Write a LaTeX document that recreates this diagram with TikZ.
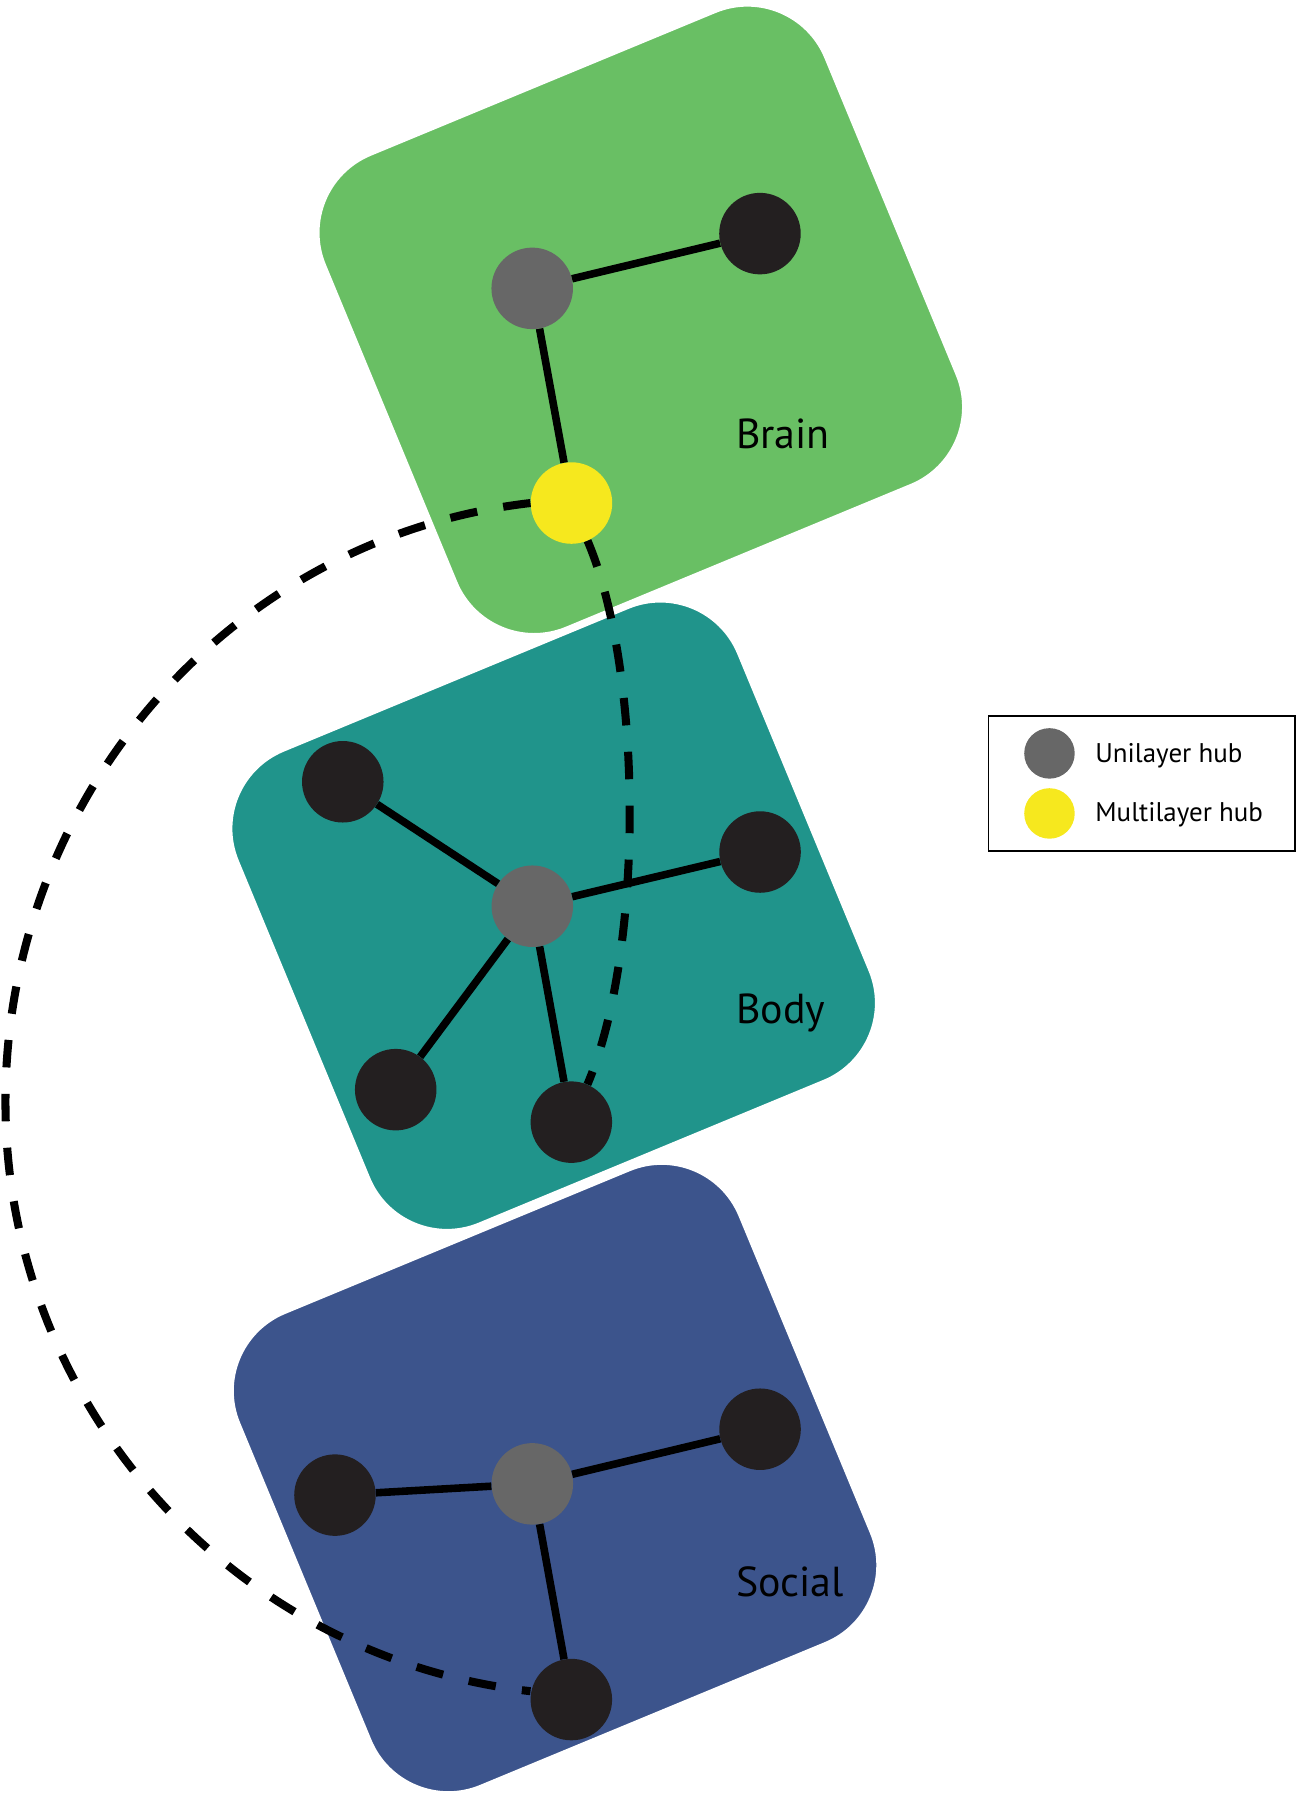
\documentclass[tikz,border=0pt]{standalone}
\usepackage{fontspec}
\setmainfont{PT Sans}
\definecolor{brainc}{HTML}{69BF64}
\definecolor{bodyc}{HTML}{20948B}
\definecolor{socialc}{HTML}{3C548C}
\definecolor{nodeblack}{HTML}{231F20}
\definecolor{hubgray}{HTML}{676767}
\definecolor{hubyellow}{HTML}{F6E81E}
\begin{document}
\begin{tikzpicture}[x=1pt,y=1pt,
  layer/.style={draw=white, line width=3pt, rounded corners=74pt, minimum width=473pt, minimum height=447pt, rotate=22.5, inner sep=0pt},
  vtx/.style={circle, minimum size=71pt, inner sep=0pt},
  blk/.style={vtx, fill=nodeblack},
  uhub/.style={vtx, fill=hubgray},
  mhub/.style={vtx, fill=hubyellow},
  link/.style={line width=6.6pt, black},
  inter/.style={line width=7pt, black, dash pattern=on 24pt off 23pt},
  lbl/.style={anchor=base west, inner sep=0pt, font=\fontsize{36.5}{40}\selectfont},
  legtxt/.style={anchor=base west, inner sep=0pt, font=\fontsize{23.5}{26}\selectfont}
]
\useasboundingbox (0,0) rectangle (1130,-1568);
% layers
\node[layer, fill=brainc] (brainbox) at (558.2,-278.6) {};
\node[layer, fill=bodyc] (bodybox) at (482.3,-797.7) {};
\node[layer, fill=socialc] (socialbox) at (483.5,-1287.5) {};
% brain nodes
\node[uhub] (bg) at (463.6,-251.2) {};
\node[blk] (bk) at (662,-203.5) {};
\node[mhub] (yel) at (497.8,-438.2) {};
% body nodes
\node[blk] (btl) at (298.6,-681) {};
\node[uhub] (og) at (463.7,-789.4) {};
\node[blk] (obr) at (662.1,-742.2) {};
\node[blk] (obl) at (344.7,-949.2) {};
\node[blk] (ob) at (497.7,-977.5) {};
% social nodes
\node[blk] (sl) at (291.8,-1302.4) {};
\node[uhub] (sg) at (463.7,-1292.6) {};
\node[blk] (sr) at (662.1,-1245) {};
\node[blk] (sb) at (497.7,-1480.5) {};
% intra-layer links
\draw[link] (bg) -- (bk);
\draw[link] (bg) -- (yel);
\draw[link] (og) -- (btl);
\draw[link] (og) -- (obr);
\draw[link] (og) -- (obl);
\draw[link] (og) -- (ob);
\draw[link] (sg) -- (sl);
\draw[link] (sg) -- (sr);
\draw[link] (sg) -- (sb);
% inter-layer links
\draw[inter] (yel.west) arc[start angle=96.43, end angle=180, x radius=515, y radius=525.1]
  arc[start angle=180, end angle=263.57, x radius=515, y radius=516.5] coordinate (arcend);
\draw[inter] (yel) .. controls (560.8,-586) and (560.8,-829.5) .. (ob);
% labels
\node[lbl] (lbrain) at (641,-390.5) {Brain};
\node[lbl] (lbody) at (641,-891.5) {Body};
\node[lbl] (lsocial) at (641,-1391) {Social};
% legend
\node[draw=black, line width=1.2pt, minimum width=267pt, minimum height=117.7pt, inner sep=0pt] (legend) at (994.6,-682.4) {};
\node[uhub, minimum size=44pt] (lu) at (914.2,-656.3) {};
\node[mhub, minimum size=44pt] (lm) at (914.2,-708.6) {};
\node[legtxt] (lut) at (954,-664.2) {Unilayer hub};
\node[legtxt] (lmt) at (954,-715.9) {Multilayer hub};
\end{tikzpicture}
\end{document}
